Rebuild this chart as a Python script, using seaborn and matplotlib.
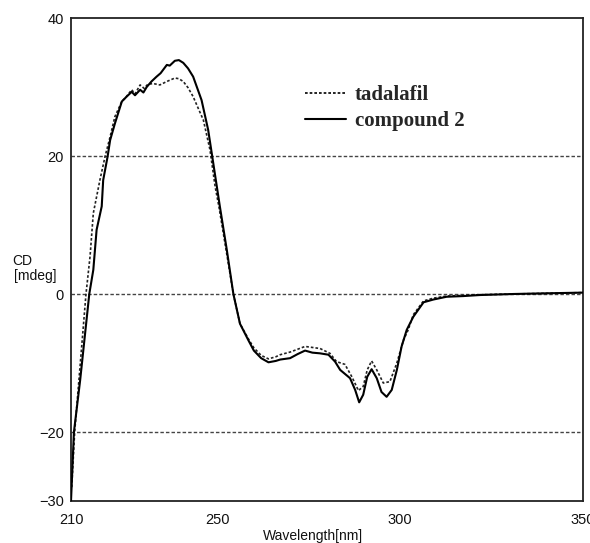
import numpy as np
import pandas as pd
import matplotlib
matplotlib.use("Agg")
import matplotlib.pyplot as plt
import seaborn as sns

# ---- data ----
compound2_wl = [210.0, 210.8, 212.5, 215.0, 216.1, 217.0, 218.4, 218.8, 220.0, 220.7,
                222.0, 223.9, 225.2, 226.6, 227.5, 228.9, 229.8, 230.7, 232.0, 233.4,
                234.5, 236.2, 237.0, 238.4, 239.5, 240.7, 242.0, 243.4, 245.7, 247.5,
                248.6, 250.7, 252.6, 254.4, 256.2, 258.5, 260.0, 262.0, 264.0, 266.0,
                267.2, 269.9, 272.0, 274.0, 276.0, 278.1, 280.4, 282.2, 283.6, 286.3,
                287.7, 288.8, 289.9, 291.0, 292.2, 293.6, 294.9, 296.3, 297.7, 299.1,
                300.4, 301.8, 303.6, 306.4, 309.1, 312.7, 317.3, 321.8, 331.0, 340.0, 350.0]
compound2_cd = [-30.0, -20.0, -12.5, 0.0, 3.5, 9.3, 12.7, 16.5, 19.9, 22.3,
                24.7, 27.9, 28.6, 29.3, 28.8, 29.6, 29.2, 30.0, 30.8, 31.5,
                32.0, 33.2, 33.1, 33.8, 33.9, 33.5, 32.7, 31.5, 28.1, 23.8,
                20.0, 12.7, 6.4, 0.0, -4.3, -6.7, -8.2, -9.3, -9.9, -9.7,
                -9.5, -9.3, -8.7, -8.2, -8.5, -8.6, -8.8, -9.8, -11.0, -12.2,
                -13.9, -15.7, -14.6, -12.0, -10.9, -12.2, -14.2, -14.9, -13.9, -11.0,
                -7.6, -5.2, -3.3, -1.2, -0.8, -0.4, -0.3, -0.15, 0.0, 0.1, 0.2]

tadalafil_wl = [210.2, 211.0, 214.1, 215.2, 216.1, 217.9, 219.3, 220.7, 222.0, 223.9,
                225.0, 226.6, 227.5, 228.9, 230.0, 231.0, 232.5, 234.3, 236.2, 238.4,
                239.5, 240.7, 242.0, 243.4, 246.2, 248.0, 249.4, 250.5, 252.4, 254.4,
                256.2, 258.5, 260.0, 262.0, 264.0, 266.0, 267.2, 270.0, 274.0, 278.1,
                280.8, 282.6, 284.9, 286.8, 288.6, 289.9, 291.0, 292.2, 293.6, 295.4,
                297.2, 299.1, 300.9, 302.2, 303.6, 306.4, 309.1, 312.7, 317.3, 321.8,
                331.0, 340.0, 350.0]
tadalafil_cd = [-28.0, -20.0, 0.0, 5.4, 11.7, 16.5, 19.9, 22.8, 25.7, 27.9,
                28.5, 29.6, 29.0, 30.3, 29.8, 30.4, 30.5, 30.3, 30.8, 31.3,
                31.2, 30.8, 29.9, 28.6, 25.2, 20.9, 15.6, 12.5, 6.4, 0.0,
                -4.3, -6.5, -7.8, -8.9, -9.4, -9.1, -8.8, -8.4, -7.6, -7.9,
                -8.6, -9.8, -10.2, -12.0, -14.0, -13.4, -11.0, -9.7, -11.0, -12.9,
                -12.7, -10.0, -6.7, -5.2, -3.0, -1.0, -0.6, -0.3, -0.2, -0.1,
                0.0, 0.1, 0.2]

x_ticklabels = [210, 250, 300, 350]
y_ticklabels = [40, 20, 0, -20, -30]
ref_lines = [20, 0, -20]

sns.set_style("white")
tick_font = ['Liberation Sans', 'DejaVu Sans']
plt.rcParams['font.family'] = tick_font

fig = plt.figure(figsize=(5.90, 5.43), dpi=100)
ax = fig.add_axes([71/590, 1 - 501/543, (583 - 71)/590, (501 - 18)/543])

df_t = pd.DataFrame({"wl": tadalafil_wl, "cd": tadalafil_cd, "s": "tadalafil"})
df_c = pd.DataFrame({"wl": compound2_wl, "cd": compound2_cd, "s": "compound 2"})

for y in ref_lines:
    ax.axhline(y, color="#444444", lw=1.0, dashes=(2.5, 1.5), zorder=1)

sns.lineplot(data=df_t, x="wl", y="cd", ax=ax, color="#222222", lw=1.2,
             sort=False, estimator=None, label="tadalafil", zorder=3)
sns.lineplot(data=df_c, x="wl", y="cd", ax=ax, color="#000000", lw=1.5,
             sort=False, estimator=None, label="compound 2", zorder=4)
ax.lines[-2].set_dashes((1.6, 1.2))

ax.set_xlim(210, 350)
ax.set_ylim(-30, 40)

ax.set_xticks(x_ticklabels)
ax.set_xticklabels([str(v) for v in x_ticklabels])
ax.set_xticks([225, 275, 325], minor=True)
ax.set_yticks(y_ticklabels)
ax.set_yticklabels([str(v).replace("-", "\u2212") for v in y_ticklabels])
ax.set_yticks([30, 10, -10], minor=True)

ax.tick_params(axis="both", which="major", direction="in", length=0, labelsize=10.5,
               colors="#111111")
ax.tick_params(axis="y", which="major", pad=5)
ax.tick_params(axis="x", which="major", length=8, width=1.0, pad=9)
ax.tick_params(axis="both", which="minor", direction="in", length=5, width=1.0,
               color="#333333")

for sp in ax.spines.values():
    sp.set_visible(True)
    sp.set_color("#222222")
    sp.set_linewidth(1.3)

ax.set_xlabel("")
ax.set_ylabel("")

fig.text(313/590, 1 - 536/543, "Wavelength[nm]", ha="center", va="center",
         fontsize=10, family=tick_font, color="#111111")
fig.text(12/590, 1 - 261/543, "CD", ha="left", va="center", fontsize=10,
         family=tick_font, color="#111111")
fig.text(14/590, 1 - 276/543, "[mdeg]", ha="left", va="center", fontsize=10,
         family=tick_font, color="#111111")

leg = ax.legend(loc="upper left", bbox_to_anchor=(0.42, 0.90), frameon=False,
                handlelength=2.0, handletextpad=0.4, labelspacing=0.3,
                prop={"family": ["Liberation Serif", "DejaVu Serif"],
                      "weight": "bold", "size": 15})
for line in leg.get_lines():
    line.set_color("#000000")

fig.savefig("out.png", dpi=100)
